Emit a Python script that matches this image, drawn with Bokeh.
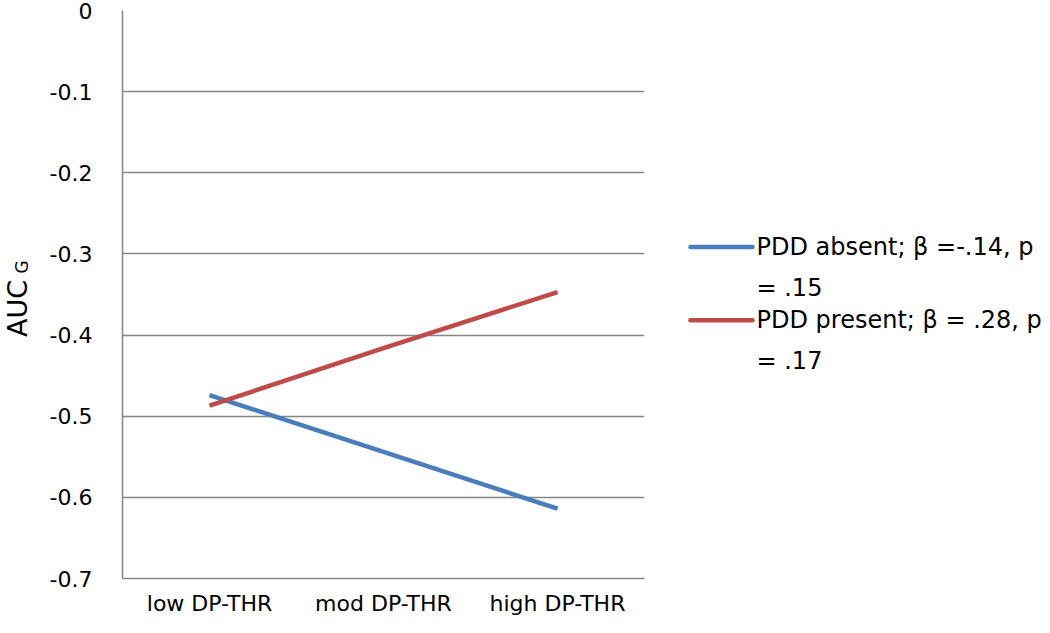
from bokeh.plotting import figure
from bokeh.layouts import row
from bokeh.models import FactorRange, Range1d, FixedTicker, CustomJSTickFormatter
from bokeh.core.properties import value
from bokeh.embed import file_html
from bokeh.resources import INLINE
import math

# ---- data ----
categories = ["low DP-THR", "mod DP-THR", "high DP-THR"]
pdd_absent = [-0.474, -0.544, -0.614]
pdd_present = [-0.487, -0.416, -0.347]
y_ticks = [-0.7, -0.6, -0.5, -0.4, -0.3, -0.2, -0.1, 0.0]
series_labels = [["PDD absent; β =-.14, p", "= .15"],
                 ["PDD present; β = .28, p", "= .17"]]
series_colors = ["#4A7EBB", "#BE4B48"]

FONT = "DejaVu Sans"
H = 625
GRAY = "#868686"

def blank(width, x0, x1):
    # y range chosen so that data units equal page pixels in this layout
    f = figure(width=width, height=H, x_range=Range1d(x0, x1), y_range=Range1d(579, 4.8),
               x_axis_type=None, y_axis_type=None,
               output_backend="svg", toolbar_location=None,
               min_border=0, min_border_left=0, min_border_right=0,
               min_border_top=0, min_border_bottom=0)
    f.grid.visible = False
    f.outline_line_color = None
    return f

# ---- y-axis title (AUC with subscript G) ----
LAB_W = 34
lab = blank(LAB_W, 0, LAB_W)
lab.text(x=[16.5], y=[306], text=["AUC"], angle=math.pi / 2,
         text_align="center", text_baseline="middle",
         text_font=value(FONT), text_font_size="27px", text_color="black")
lab.text(x=[21.5], y=[264], text=["G"], angle=math.pi / 2,
         text_align="center", text_baseline="middle",
         text_font=value(FONT), text_font_size="17px", text_color="black")

# ---- main chart ----
MAIN_W = 652 - LAB_W
p = figure(x_range=FactorRange(*categories), y_range=Range1d(-0.7, 0.0),
           width=MAIN_W, height=H, output_backend="svg", toolbar_location=None,
           min_border_left=122 - LAB_W, min_border_right=8, min_border_top=10,
           min_border_bottom=H - 578)
p.outline_line_color = None
p.background_fill_color = "white"
p.border_fill_color = "white"

p.line(x=categories, y=pdd_absent, line_color=series_colors[0], line_width=4.5)
p.line(x=categories, y=pdd_present, line_color=series_colors[1], line_width=4.5)

p.xgrid.grid_line_color = None
p.ygrid.grid_line_color = GRAY
p.ygrid.grid_line_width = 1.5
p.yaxis.ticker = FixedTicker(ticks=y_ticks)
p.yaxis.formatter = CustomJSTickFormatter(code="return Math.abs(tick) < 1e-9 ? '0' : tick.toFixed(1);")

for ax in (p.xaxis, p.yaxis):
    ax.axis_line_color = GRAY
    ax.axis_line_width = 1.5
    ax.major_tick_line_color = None
    ax.minor_tick_line_color = None
    ax.major_tick_out = 0
    ax.major_tick_in = 0
    ax.major_label_text_font = FONT
    ax.major_label_text_font_size = "22px"
    ax.major_label_text_color = "#000000"
p.yaxis.major_label_standoff = 30
p.xaxis.major_label_standoff = 12

# ---- legend ----
leg = blank(390, 652, 1042)
ys = [244, 318]
for (l1, l2), c, y in zip(series_labels, series_colors, ys):
    leg.line(x=[690, 752], y=[y, y], line_color=c, line_width=4.5, line_cap="round")
    leg.text(x=[756], y=[y], text=[l1], text_align="left", text_baseline="middle",
             text_font=value(FONT), text_font_size="24px", text_color="black")
    leg.text(x=[756], y=[y + 41], text=[l2], text_align="left", text_baseline="middle",
             text_font=value(FONT), text_font_size="24px", text_color="black")

layout = row(lab, p, leg, spacing=0)
open("out.html", "w").write(file_html(layout, INLINE))
